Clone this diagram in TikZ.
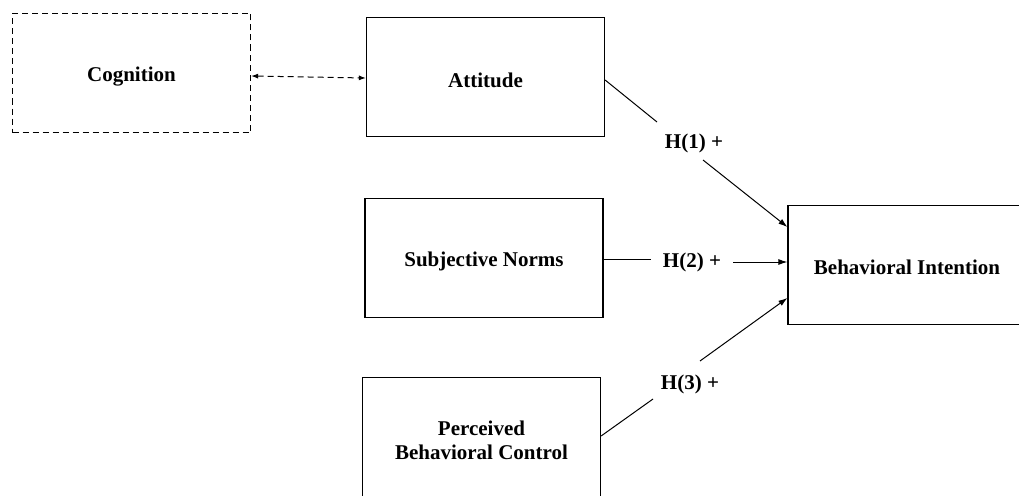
\documentclass[tikz,border=0pt]{standalone}
\usepackage{fontspec}
\setmainfont{Liberation Serif}
\usetikzlibrary{arrows.meta}
\begin{document}
\begin{tikzpicture}[x=1pt,y=-1pt,
  txt/.style={inner sep=0pt, align=center, font=\fontsize{21}{24}\selectfont\bfseries},
  box/.style={draw, line width=1.2pt, minimum width=238pt, minimum height=119pt, inner sep=0pt},
  dbox/.style={box, dash pattern=on 6pt off 4pt},
  lab/.style={txt},
  conn/.style={line width=1pt},
  arr/.style={conn, -{Latex[length=9pt,width=6pt]}},
  darr/.style={line width=1pt, dash pattern=on 6pt off 4pt, {Latex[length=7pt,width=5pt]}-{Latex[length=7pt,width=5pt]}},
]
\clip (0,0) rectangle (1019,495);
\fill[white] (0,0) rectangle (1019,495);
\node[dbox, label={[txt,yshift=-4pt]center:Cognition}] (cog) at (131.5,73) {};
\node[box, label={[txt,yshift=-3pt]center:Attitude}] (att) at (485.5,77) {};
\node[box, label={[txt,yshift=-3pt]center:Subjective Norms}] (sn) at (484,258) {};
\node[box, label={[txt,yshift=-3pt]center:Perceived\\Behavioral Control}] (pbc) at (481.5,437) {};
\node[box, label={[txt,yshift=-2pt]center:Behavioral Intention}] (bi) at (907,265) {};
\node[lab] (h1) at (694,143) {H(1) +};
\node[lab] (h2) at (692,262) {H(2) +};
\node[lab] (h3) at (690,384) {H(3) +};
\coordinate (h1a) at (657,122);
\coordinate (h1b) at (703,160);
\coordinate (h2a) at (651,259);
\coordinate (h2b) at (733,262);
\coordinate (h3a) at (653,399);
\coordinate (h3b) at (700,361);
\draw[darr] ([yshift=-3pt]cog.east) -- ([yshift=-1pt]att.west);
\draw[conn] ([yshift=-3pt]att.east) -- (h1a);
\draw[arr] (h1b) -- ([yshift=38pt]bi.west);
\draw[conn] ([yshift=-1pt]sn.east) -- (h2a);
\draw[arr] (h2b) -- ([yshift=3pt]bi.west);
\draw[conn] ([yshift=1pt]pbc.east) -- (h3a);
\draw[arr] (h3b) -- ([yshift=-33pt]bi.west);
\end{tikzpicture}
\end{document}
